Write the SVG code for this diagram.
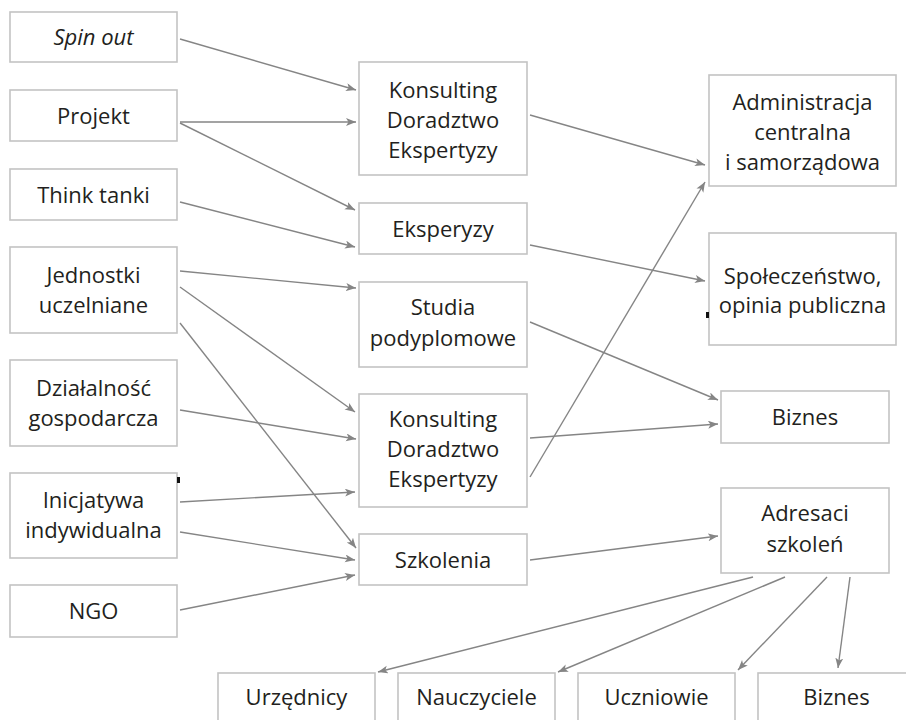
<svg xmlns="http://www.w3.org/2000/svg" width="906" height="720" viewBox="0 0 906 720">
<defs>
<style>
.box{fill:#fff;stroke:#c3c3c3;stroke-width:1.6}
.t{font-family:"Open Sans","Noto Sans",sans-serif;font-size:22px;fill:#231f20;text-anchor:middle}
.c{fill:none;stroke:#858585;stroke-width:1.4;marker-end:url(#ah)}
</style>
<marker id="ah" markerUnits="userSpaceOnUse" markerWidth="11" markerHeight="9" refX="10" refY="4" orient="auto">
<path d="M0,0 L10,4 L0,8 L2.5,4 z" fill="#858585"/>
</marker>
</defs>
<rect width="906" height="720" fill="#fff"/>
<g id="connectors">
<line class="c" x1="180" y1="39" x2="356" y2="90"/>
<line class="c" x1="180" y1="122" x2="356" y2="122"/>
<line class="c" x1="180" y1="123" x2="355" y2="210"/>
<line class="c" x1="180" y1="202" x2="355" y2="247"/>
<line class="c" x1="180" y1="271" x2="356" y2="288"/>
<line class="c" x1="180" y1="287" x2="355" y2="412"/>
<line class="c" x1="180" y1="323" x2="356" y2="548"/>
<line class="c" x1="180" y1="410" x2="356" y2="439"/>
<line class="c" x1="180" y1="502" x2="355" y2="492"/>
<line class="c" x1="180" y1="532" x2="355" y2="560"/>
<line class="c" x1="180" y1="610" x2="355" y2="575"/>
<line class="c" x1="530" y1="115" x2="705" y2="165"/>
<line class="c" x1="530" y1="245" x2="705" y2="281"/>
<line class="c" x1="530" y1="477" x2="705" y2="182"/>
<line class="c" x1="530" y1="322" x2="718" y2="400"/>
<line class="c" x1="530" y1="438" x2="718" y2="424"/>
<line class="c" x1="530" y1="560" x2="718" y2="536"/>
<line class="c" x1="753" y1="577" x2="378" y2="672"/>
<line class="c" x1="785" y1="577" x2="558" y2="672"/>
<line class="c" x1="827" y1="577" x2="738" y2="670"/>
<line class="c" x1="850" y1="577" x2="838" y2="668"/>
</g>
<g id="spin-out"><rect class="box" x="10" y="12" width="167" height="50"/><text class="t" x="93.5" y="45" font-style="italic">Spin out</text></g>
<g id="projekt"><rect class="box" x="10" y="90" width="167" height="51"/><text class="t" x="93.5" y="123.5">Projekt</text></g>
<g id="think-tanki"><rect class="box" x="10" y="169" width="167" height="51"/><text class="t" x="93.5" y="202.5">Think tanki</text></g>
<g id="jednostki"><rect class="box" x="10" y="247" width="167" height="86"/><text class="t" x="93.5" y="283">Jednostki</text><text class="t" x="93.5" y="313">uczelniane</text></g>
<g id="dzialalnosc"><rect class="box" x="10" y="360" width="167" height="86"/><text class="t" x="93.5" y="395.5">Działalność</text><text class="t" x="93.5" y="425.5">gospodarcza</text></g>
<g id="inicjatywa"><rect class="box" x="10" y="473" width="167" height="85"/><text class="t" x="93.5" y="508">Inicjatywa</text><text class="t" x="93.5" y="538">indywidualna</text></g>
<g id="ngo"><rect class="box" x="10" y="585" width="167" height="52"/><text class="t" x="93.5" y="619">NGO</text></g>
<g id="konsulting-1"><rect class="box" x="359" y="62" width="168" height="113"/><text class="t" x="443" y="97.5">Konsulting</text><text class="t" x="443" y="127.5">Doradztwo</text><text class="t" x="443" y="157.5">Ekspertyzy</text></g>
<g id="eksperyzy"><rect class="box" x="359" y="203" width="168" height="51"/><text class="t" x="443" y="236.5">Eksperyzy</text></g>
<g id="studia"><rect class="box" x="359" y="282" width="168" height="85"/><text class="t" x="443" y="315">Studia</text><text class="t" x="443" y="345.5">podyplomowe</text></g>
<g id="konsulting-2"><rect class="box" x="359" y="394" width="168" height="113"/><text class="t" x="443" y="426.5">Konsulting</text><text class="t" x="443" y="457">Doradztwo</text><text class="t" x="443" y="487">Ekspertyzy</text></g>
<g id="szkolenia"><rect class="box" x="359" y="534" width="168" height="51"/><text class="t" x="443" y="567.5">Szkolenia</text></g>
<g id="administracja"><rect class="box" x="709" y="75" width="187" height="111"/><text class="t" x="802.5" y="110">Administracja</text><text class="t" x="802.5" y="140">centralna</text><text class="t" x="802.5" y="170">i samorządowa</text></g>
<g id="spoleczenstwo"><rect class="box" x="709" y="233" width="187" height="112"/><text class="t" x="802.5" y="283.5">Społeczeństwo,</text><text class="t" x="802.5" y="313">opinia publiczna</text></g>
<g id="biznes-1"><rect class="box" x="721" y="391" width="168" height="52"/><text class="t" x="805" y="425">Biznes</text></g>
<g id="adresaci"><rect class="box" x="721" y="488" width="168" height="85"/><text class="t" x="805" y="521">Adresaci</text><text class="t" x="805" y="551.5">szkoleń</text></g>
<g id="urzednicy"><rect class="box" x="218" y="673" width="157" height="60"/><text class="t" x="296.5" y="705">Urzędnicy</text></g>
<g id="nauczyciele"><rect class="box" x="398" y="673" width="157" height="60"/><text class="t" x="476.5" y="705">Nauczyciele</text></g>
<g id="uczniowie"><rect class="box" x="578" y="673" width="157" height="60"/><text class="t" x="656.5" y="705">Uczniowie</text></g>
<g id="biznes-2"><rect class="box" x="758" y="673" width="157" height="60"/><text class="t" x="836.5" y="705">Biznes</text></g>
<rect x="706" y="312" width="3" height="6" fill="#111"/>
<rect x="177" y="477" width="3" height="6" fill="#111"/>
</svg>
